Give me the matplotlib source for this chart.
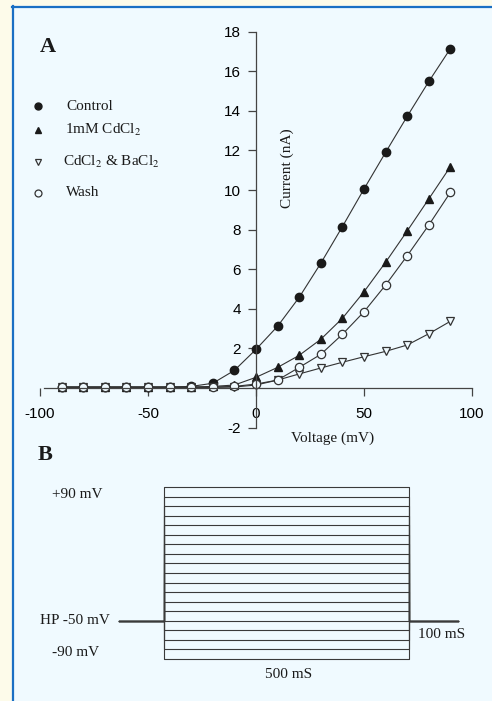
import matplotlib
matplotlib.use("Agg")
import matplotlib.pyplot as plt

# ---------------- data ----------------
voltage_mV = [-90, -80, -70, -60, -50, -40, -30, -20, -10, 0, 10, 20, 30, 40, 50, 60, 70, 80, 90]
control = [0.05, 0.05, 0.05, 0.05, 0.05, 0.05, 0.08, 0.24, 0.89, 1.95, 3.12, 4.58, 6.30, 8.15, 10.05, 11.90, 13.72, 15.48, 17.14]
cdcl2 = [0.05, 0.05, 0.05, 0.05, 0.05, 0.05, 0.05, 0.08, 0.15, 0.54, 1.04, 1.65, 2.46, 3.52, 4.86, 6.35, 7.93, 9.55, 11.18]
cdcl2_bacl2 = [0.03, 0.03, 0.03, 0.03, 0.03, 0.03, 0.03, 0.03, 0.05, 0.15, 0.40, 0.71, 1.01, 1.30, 1.58, 1.85, 2.17, 2.74, 3.37]
wash = [0.04, 0.04, 0.04, 0.04, 0.04, 0.04, 0.04, 0.05, 0.08, 0.20, 0.40, 1.04, 1.70, 2.71, 3.85, 5.20, 6.68, 8.23, 9.88]
series_names = ["Control", "1mM CdCl$_2$", "CdCl$_2$ & BaCl$_2$", "Wash"]
x_ticks = [-100, -50, 0, 50, 100]
y_ticks = [-2, 2, 4, 6, 8, 10, 12, 14, 16, 18]

# protocol (panel B)
step_levels_mV = [-90, -80, -70, -60, -50, -40, -30, -20, -10, 0, 10, 20, 30, 40, 50, 60, 70, 80, 90]
holding_mV = -50
pre_ms, step_ms, post_ms = 92, 500, 100

# ---------------- figure ----------------
W, H = 492, 701
fig = plt.figure(figsize=(W / 100, H / 100), dpi=100)
plt.rcParams['mathtext.fontset'] = 'stix'

serif = ['Liberation Serif', 'DejaVu Serif']
sans = ['Liberation Sans', 'DejaVu Sans']
ink = '#1a1a1a'
FS = 11

bg = fig.add_axes([0, 0, 1, 1])
bg.set_xlim(0, W)
bg.set_ylim(H, 0)
bg.axis('off')
bg.add_patch(plt.Rectangle((0, 0), W, H, color='#fdfbea', zorder=0))
bg.add_patch(plt.Rectangle((12, 6), W - 12, H - 6, color='#f0faff', zorder=1))
bg.plot([12.5, 12.5], [6, H], color='#1a6fc4', lw=1.6, zorder=2)
bg.plot([12, W], [6.5, 6.5], color='#1a6fc4', lw=1.6, zorder=2)

def fx(px):
    return px / W

def fy(py):
    return 1 - py / H

# ---------------- panel A ----------------
x0px, x1px = 40, 472
ybot, ytop = 427.6, 31.6
axA = fig.add_axes([fx(x0px), fy(ybot), (x1px - x0px) / W, (ybot - ytop) / H])
axA.set_facecolor('none')
axA.set_xlim(-100, 100)
axA.set_ylim(-2, 18)
for s in ['top', 'right']:
    axA.spines[s].set_visible(False)
axA.spines['left'].set_position(('data', 0))
axA.spines['bottom'].set_position(('data', 0))
axA.spines['bottom'].set_bounds(-98, 100)
for s in ['left', 'bottom']:
    axA.spines[s].set_color('#444444')
    axA.spines[s].set_linewidth(0.9)
axA.set_xticks(x_ticks)
axA.set_xticklabels([str(t) for t in x_ticks], fontfamily=sans, fontsize=11)
axA.set_yticks(y_ticks)
axA.set_yticklabels([str(t) for t in y_ticks], fontfamily=sans, fontsize=11)
axA.tick_params(axis='x', direction='out', length=6, width=0.9, color='#444444', pad=8)
axA.tick_params(axis='y', direction='out', length=6, width=0.9, color='#444444', pad=5)

styles = [
    dict(marker='o', mfc=ink, mec=ink, ms=6),
    dict(marker='^', mfc=ink, mec=ink, ms=6),
    dict(marker='v', mfc='#f0faff', mec='#333333', ms=6, mew=0.9),
    dict(marker='o', mfc='#f0faff', mec='#333333', ms=6, mew=0.9),
]
for vals, st in zip([control, cdcl2, cdcl2_bacl2, wash], styles):
    axA.plot(voltage_mV, vals, color='#333333', lw=0.8, clip_on=False, **st)

# legend (manual, as in the original)
leg_y = [106, 130, 162, 193]
leg_tx = [66, 65, 63, 66]
for name, st, yy, tx in zip(series_names, styles, leg_y, leg_tx):
    st2 = dict(st)
    st2['ms'] = 5
    bg.plot([38], [yy], linestyle='none', zorder=5, **st2)
    bg.text(tx, yy, name, fontfamily=serif, fontsize=FS, va='center', ha='left', color=ink, zorder=5)

bg.text(48, 47, 'A', fontfamily=serif, fontsize=16, fontweight='bold', ha='center', va='center', color=ink, zorder=5)
bg.text(287, 168, 'Current (nA)', fontfamily=serif, fontsize=FS, rotation=90, ha='center', va='center', color=ink, zorder=5)
bg.text(333, 438, 'Voltage (mV)', fontfamily=serif, fontsize=FS, ha='center', va='center', color=ink, zorder=5)

# ---------------- panel B ----------------
pxms = 245 / step_ms
pxmv = (659 - 487) / 180
tmin, tmax = -100, 620
vmin, vmax = -100, 100
Lpx = 164 + tmin * pxms
Rpx = 164 + tmax * pxms
Bpx = 659 + (-90 - vmin) * pxmv
Tpx = 487 - (vmax - 90) * pxmv
axB = fig.add_axes([fx(Lpx), fy(Bpx), (Rpx - Lpx) / W, (Bpx - Tpx) / H])
axB.set_facecolor('none')
axB.set_xlim(tmin, tmax)
axB.set_ylim(vmin, vmax)
axB.axis('off')
for v in step_levels_mV:
    t = [-pre_ms, 0, 0, step_ms, step_ms, step_ms + post_ms]
    y = [holding_mV, holding_mV, v, v, holding_mV, holding_mV]
    axB.plot(t, y, color='#3a3a3a', lw=0.8)

bg.text(52, 494, '+90 mV', fontfamily=serif, fontsize=FS, ha='left', va='center', color=ink, zorder=5)
bg.text(110, 621, 'HP -50 mV', fontfamily=serif, fontsize=FS, ha='right', va='center', color=ink, zorder=5)
bg.text(52, 653, '-90 mV', fontfamily=serif, fontsize=FS, ha='left', va='center', color=ink, zorder=5)
bg.text(418, 634, '100 mS', fontfamily=serif, fontsize=FS, ha='left', va='center', color=ink, zorder=5)
bg.text(289, 674, '500 mS', fontfamily=serif, fontsize=FS, ha='center', va='center', color=ink, zorder=5)
bg.text(45, 455, 'B', fontfamily=serif, fontsize=16, fontweight='bold', ha='center', va='center', color=ink, zorder=5)

fig.savefig('out.png', dpi=100)
